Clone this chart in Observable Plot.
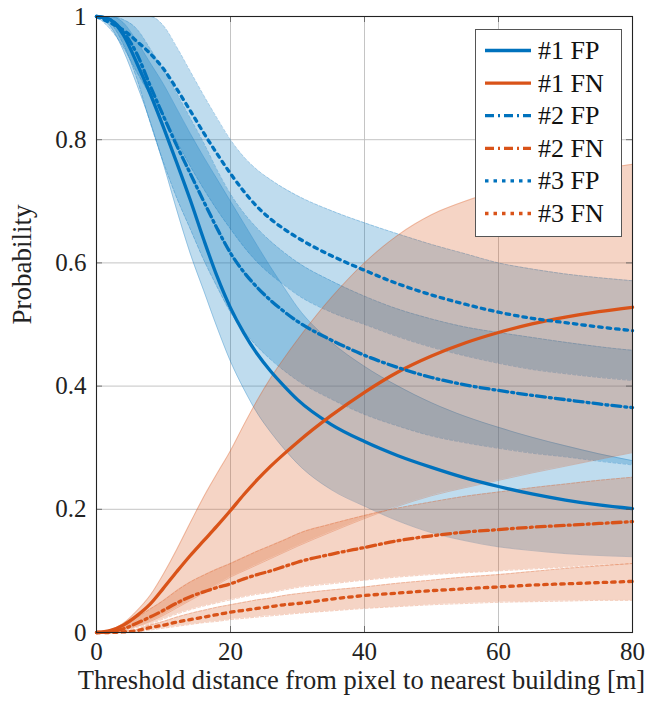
<!DOCTYPE html>
<html><head><meta charset="utf-8">
<script src="https://cdn.jsdelivr.net/npm/d3@7"></script>
<script src="https://cdn.jsdelivr.net/npm/@observablehq/plot@0.6"></script>
<style>
body{margin:0;background:#fff}
</style>
</head><body><div id="chart"></div>
<script>
const distance = [0,2,4,6,8,10,12,14,16,18,20,22,24,26,28,30,35,40,45,50,55,60,65,70,75,80];

const fp1   = [1.0,0.995,0.97,0.925,0.875,0.82,0.762,0.702,0.638,0.578,0.527,0.486,0.452,0.424,0.40,0.378,0.338,0.31,0.287,0.268,0.251,0.237,0.225,0.215,0.207,0.201];
const fp1Lo = [1.0,0.985,0.945,0.89,0.83,0.76,0.685,0.615,0.555,0.495,0.44,0.395,0.356,0.325,0.298,0.274,0.232,0.205,0.181,0.162,0.149,0.139,0.133,0.128,0.125,0.123];
const fp1Hi = [1.0,1.0,0.99,0.96,0.925,0.89,0.85,0.81,0.772,0.736,0.70,0.664,0.628,0.593,0.56,0.528,0.472,0.432,0.40,0.373,0.351,0.333,0.317,0.303,0.29,0.279];

const fn1   = [0,0.003,0.012,0.027,0.046,0.072,0.099,0.125,0.149,0.173,0.198,0.224,0.248,0.27,0.29,0.309,0.352,0.39,0.423,0.449,0.47,0.487,0.501,0.512,0.521,0.528];
const fn1Lo = [0,0.001,0.004,0.01,0.018,0.028,0.04,0.052,0.064,0.077,0.09,0.1,0.11,0.12,0.13,0.14,0.163,0.185,0.205,0.222,0.235,0.247,0.259,0.27,0.281,0.292];
const fn1Hi = [0,0.004,0.015,0.035,0.06,0.095,0.135,0.178,0.22,0.258,0.295,0.337,0.377,0.413,0.445,0.475,0.543,0.60,0.645,0.678,0.70,0.717,0.731,0.743,0.752,0.76];

const fp2   = [1.0,0.995,0.975,0.94,0.888,0.838,0.79,0.745,0.70,0.656,0.616,0.585,0.56,0.539,0.521,0.505,0.475,0.45,0.43,0.414,0.402,0.393,0.385,0.378,0.371,0.365];
const fp2Lo = [1.0,0.99,0.955,0.90,0.828,0.763,0.705,0.655,0.605,0.561,0.52,0.489,0.464,0.443,0.425,0.409,0.379,0.354,0.335,0.319,0.308,0.299,0.291,0.285,0.278,0.272];
const fp2Hi = [1.0,1.0,0.995,0.98,0.948,0.913,0.875,0.835,0.795,0.751,0.712,0.681,0.656,0.635,0.617,0.601,0.571,0.546,0.525,0.509,0.496,0.487,0.479,0.471,0.464,0.458];

const fn2   = [0,0.001,0.006,0.015,0.025,0.036,0.048,0.058,0.066,0.073,0.079,0.087,0.094,0.1,0.107,0.114,0.127,0.138,0.149,0.157,0.163,0.167,0.171,0.174,0.177,0.18];
const fn2Lo = [0,0,0.003,0.008,0.014,0.022,0.03,0.037,0.043,0.048,0.053,0.058,0.062,0.065,0.069,0.073,0.079,0.085,0.09,0.094,0.097,0.10,0.103,0.106,0.109,0.112];
const fn2Hi = [0,0.002,0.01,0.024,0.038,0.052,0.068,0.082,0.093,0.103,0.112,0.122,0.132,0.141,0.15,0.16,0.176,0.19,0.202,0.212,0.221,0.228,0.235,0.241,0.247,0.252];

const fp3   = [1.0,0.99,0.978,0.96,0.94,0.915,0.882,0.847,0.811,0.777,0.745,0.716,0.691,0.671,0.655,0.641,0.612,0.588,0.566,0.548,0.533,0.52,0.51,0.503,0.496,0.49];
const fp3Lo = [1.0,0.98,0.95,0.91,0.873,0.84,0.797,0.757,0.72,0.686,0.655,0.626,0.601,0.581,0.564,0.548,0.52,0.50,0.48,0.463,0.449,0.437,0.427,0.42,0.414,0.409];
const fp3Hi = [1,1,1,1,1,0.985,0.95,0.911,0.872,0.835,0.80,0.772,0.751,0.735,0.721,0.709,0.685,0.665,0.647,0.63,0.615,0.60,0.59,0.582,0.576,0.571];

const fn3   = [0,0,0.001,0.003,0.008,0.012,0.017,0.021,0.025,0.029,0.033,0.036,0.039,0.042,0.045,0.047,0.054,0.06,0.064,0.068,0.071,0.074,0.077,0.079,0.081,0.083];
const fn3Lo = [0,0,0,0.001,0.004,0.007,0.01,0.013,0.016,0.018,0.021,0.023,0.025,0.027,0.029,0.031,0.035,0.039,0.042,0.045,0.047,0.049,0.05,0.051,0.052,0.052];
const fn3Hi = [0,0,0.002,0.005,0.012,0.018,0.025,0.031,0.036,0.041,0.045,0.049,0.053,0.056,0.06,0.063,0.069,0.074,0.08,0.085,0.09,0.094,0.099,0.104,0.108,0.112];

const seriesNames = ["#1 FP","#1 FN","#2 FP","#2 FN","#3 FP","#3 FN"];
const xTicks = [0,20,40,60,80];
const yTicks = [0,0.2,0.4,0.6,0.8,1];
const yTickLabels = ["0","0.2","0.4","0.6","0.8","1"];
const xLabel = "Threshold distance from pixel to nearest building [m]";
const yLabel = "Probability";

const FONT = "Liberation Serif";
const blue = "#0072BD", orange = "#D95319";
const dashDot = "9,4,2,4", dotted = "3.5,5";
const series = [
  {name: seriesNames[0], mean: fp1, lo: fp1Lo, hi: fp1Hi, color: blue,   dash: null},
  {name: seriesNames[1], mean: fn1, lo: fn1Lo, hi: fn1Hi, color: orange, dash: null},
  {name: seriesNames[2], mean: fp2, lo: fp2Lo, hi: fp2Hi, color: blue,   dash: dashDot},
  {name: seriesNames[3], mean: fn2, lo: fn2Lo, hi: fn2Hi, color: orange, dash: dashDot},
  {name: seriesNames[4], mean: fp3, lo: fp3Lo, hi: fp3Hi, color: blue,   dash: dotted},
  {name: seriesNames[5], mean: fn3, lo: fn3Lo, hi: fn3Hi, color: orange, dash: dotted}
];
const rowsOf = s => distance.map((x, i) => ({x, y: s.mean[i], lo: s.lo[i], hi: s.hi[i]}));
const curve = "monotone-x";

const marks = [
  Plot.ruleX(xTicks.slice(1, -1), {x: d => d, stroke: "#bdbdbd", strokeWidth: 0.9}),
  Plot.ruleY(yTicks.slice(1, -1), {y: d => d, stroke: "#bdbdbd", strokeWidth: 0.9})
];
// bands: FP (blue) first, then FN (orange) on top
const bandOrder = [0, 2, 4, 1, 3, 5].map(i => series[i]);
for (const s of bandOrder) {
  const rows = rowsOf(s);
  marks.push(Plot.areaY(rows, {x: "x", y1: "lo", y2: "hi", fill: s.color, fillOpacity: 0.25, curve}));
  marks.push(Plot.line(rows, {x: "x", y: "lo", stroke: s.color, strokeOpacity: 0.35, strokeWidth: 0.8, strokeDasharray: s.dash ? "3,2" : null, curve}));
  marks.push(Plot.line(rows, {x: "x", y: "hi", stroke: s.color, strokeOpacity: 0.35, strokeWidth: 0.8, strokeDasharray: s.dash ? "3,2" : null, curve}));
}
for (const s of series) {
  marks.push(Plot.line(rowsOf(s), {x: "x", y: "y", stroke: s.color, strokeWidth: 3.3, strokeDasharray: s.dash, curve}));
}
marks.push(
  Plot.tickX(xTicks, {x: d => d, insetTop: 610, stroke: "#555", strokeWidth: 0.8}),
  Plot.tickX(xTicks, {x: d => d, insetBottom: 610, stroke: "#555", strokeWidth: 0.8}),
  Plot.tickY(yTicks, {y: d => d, insetRight: 530, stroke: "#555", strokeWidth: 0.8}),
  Plot.tickY(yTicks, {y: d => d, insetLeft: 530, stroke: "#555", strokeWidth: 0.8}),
  Plot.frame({stroke: "#222", strokeWidth: 1.1}),
  Plot.text([xLabel], {frameAnchor: "bottom", dy: 56, dx: -3, fontSize: 26.5, fill: "#222", fontFamily: FONT}),
  Plot.text([yLabel], {frameAnchor: "left", dx: -74, rotate: -90, fontSize: 27, fill: "#222", fontFamily: FONT})
);

const plot = Plot.plot({
  width: 657, height: 703,
  marginLeft: 96, marginRight: 25, marginTop: 16, marginBottom: 71,
  style: {fontSize: "25px", fontFamily: FONT, color: "#222", background: "white"},
  x: {domain: [0, 80], ticks: xTicks, tickSize: 0, tickPadding: 10, label: null},
  y: {domain: [0, 1], ticks: yTicks, tickSize: 0, tickPadding: 10, label: null,
      tickFormat: d => yTickLabels[yTicks.indexOf(d)]},
  marks
});

// Legend (inside the frame, top-right)
const svg = d3.select(plot);
const lg = svg.append("g");
lg.append("rect").attr("x", 475.5).attr("y", 29.5).attr("width", 146).attr("height", 207)
  .attr("fill", "white").attr("stroke", "#555").attr("stroke-width", 1);
series.forEach((s, i) => {
  const cy = 50.5 + i * 32.6;
  lg.append("line").attr("x1", 485).attr("x2", 531).attr("y1", cy).attr("y2", cy)
    .attr("stroke", s.color).attr("stroke-width", 3.3).attr("stroke-dasharray", s.dash);
  lg.append("text").attr("x", 538).attr("y", cy + 8.5).attr("font-size", 26)
    .attr("font-family", FONT).attr("text-anchor", "start").attr("fill", "#111")
    .text(s.name);
});

document.getElementById("chart").appendChild(plot);
</script>
</body></html>
